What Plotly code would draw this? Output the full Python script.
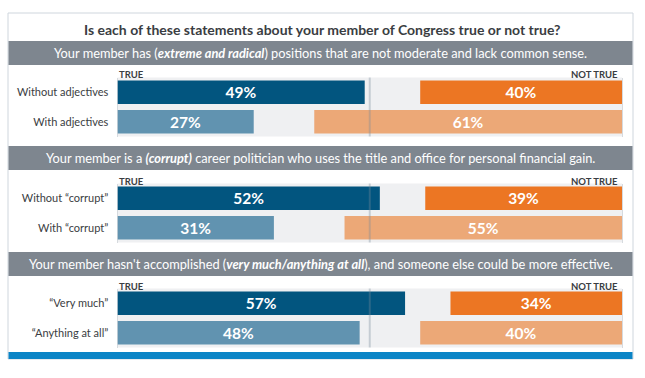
import plotly.graph_objects as go

# ---------------- data ----------------
title_text = "Is each of these statements about your member of Congress true or not true?"
statements = [
    "Your member has (<b><i>extreme and radical</i></b>) positions that are not moderate and lack common sense.",
    "Your member is a <b><i>(corrupt)</i></b> career politician who uses the title and office for personal financial gain.",
    "Your member hasn't accomplished (<b><i>very much/anything at all</i></b>), and someone else could be more effective.",
]
row_labels = [
    ["Without adjectives", "With adjectives"],
    ["Without “corrupt”", "With “corrupt”"],
    ["“Very much”", "“Anything at all”"],
]
true_vals = [[49, 27], [52, 31], [57, 48]]
not_true_vals = [[40, 61], [39, 55], [34, 40]]

# ---------------- style ----------------
W, H = 645, 378
FONT = "Lato"
DARK_BLUE, LIGHT_BLUE = "#02557f", "#6193b0"
ORANGE, LIGHT_ORANGE = "#ec7623", "#eca877"
HEADER_GRAY = "#7e868f"
BG_GRAY = "#eff0f2"
TEXT_DARK = "#3a3d42"

def px(x):
    return x / W

def py(y):
    return 1 - y / H

# section geometry (pixels)
x_left, x_right = 117.5, 622
plot_tops = [77.5, 183.5, 288.5]
plot_h = 59
header_tops = [41, 146, 252]
header_h = 24

fig = go.Figure()
layout_axes = {}
shapes = []
annotations = []

# outer frame
shapes.append(dict(type="rect", xref="paper", yref="paper",
                   x0=px(8), x1=px(633), y0=py(359), y1=py(13),
                   line=dict(color="#cfd6dd", width=1), layer="below"))

for i in range(3):
    sfx = "" if i == 0 else str(i + 1)
    xa, ya = "x" + sfx, "y" + sfx
    cats = row_labels[i]
    fig.add_trace(go.Bar(
        y=cats, x=true_vals[i], base=[0, 0], orientation="h",
        xaxis=xa, yaxis=ya, width=0.8,
        marker=dict(color=[DARK_BLUE, LIGHT_BLUE], line=dict(width=0)),
        text=[f"{v}%" for v in true_vals[i]], textposition="inside",
        insidetextanchor="middle", constraintext="none",
        textfont=dict(family=FONT, size=15.5, color="white", weight="bold"),
        hoverinfo="skip", showlegend=False,
    ))
    fig.add_trace(go.Bar(
        y=cats, x=not_true_vals[i], base=[100 - v for v in not_true_vals[i]],
        orientation="h", xaxis=xa, yaxis=ya, width=0.8,
        marker=dict(color=[ORANGE, LIGHT_ORANGE], line=dict(width=0)),
        text=[f"{v}%" for v in not_true_vals[i]], textposition="inside",
        insidetextanchor="middle", constraintext="none",
        textfont=dict(family=FONT, size=15.5, color="white", weight="bold"),
        hoverinfo="skip", showlegend=False,
    ))
    top = plot_tops[i]
    layout_axes["xaxis" + sfx] = dict(
        domain=[px(x_left), px(x_right)], range=[0, 100], anchor=ya,
        visible=False, fixedrange=True,
    )
    layout_axes["yaxis" + sfx] = dict(
        domain=[py(top + plot_h), py(top)], anchor=xa,
        type="category", categoryorder="array", categoryarray=cats,
        range=[1.5, -0.5], showgrid=False, zeroline=False, ticks="",
        ticklabelstandoff=6, showline=True, mirror=True,
        linecolor="#d6dade", linewidth=1, layer="below traces",
        tickfont=dict(family=FONT, size=11, color=TEXT_DARK), fixedrange=True,
    )
    # center divider
    shapes.append(dict(type="line", xref=xa, yref=ya + " domain",
                       x0=50, x1=50, y0=0, y1=1, layer="above",
                       line=dict(color="rgba(120,138,156,0.35)", width=2)))
    # header band
    ht = header_tops[i]
    shapes.append(dict(type="rect", xref="paper", yref="paper",
                       x0=px(8.5), x1=px(632.5), y0=py(ht + header_h), y1=py(ht),
                       fillcolor=HEADER_GRAY, line=dict(width=0), layer="below"))
    annotations.append(dict(text=statements[i], xref="paper", yref="paper",
                            x=px(320.5), y=py(ht + header_h / 2), showarrow=False,
                            xanchor="center", yanchor="middle",
                            font=dict(family=FONT, size=12.8, color="white")))
    # TRUE / NOT TRUE labels
    annotations.append(dict(text="<b>TRUE</b>", xref="paper", yref="paper",
                            x=px(x_left - 0.5), y=py(top - 2.5), showarrow=False,
                            xanchor="left", yanchor="middle",
                            font=dict(family=FONT, size=9.5, color=TEXT_DARK)))
    annotations.append(dict(text="<b>NOT TRUE</b>", xref="paper", yref="paper",
                            x=px(x_right - 2), y=py(top - 2.5), showarrow=False,
                            xanchor="right", yanchor="middle",
                            font=dict(family=FONT, size=9.5, color=TEXT_DARK)))

# bottom band
shapes.append(dict(type="rect", xref="paper", yref="paper",
                   x0=px(8.5), x1=px(632.5), y0=py(359), y1=py(352),
                   fillcolor="#0b84c6", line=dict(width=0), layer="above"))
annotations.append(dict(text="<b>" + title_text + "</b>", xref="paper", yref="paper",
                        x=px(322), y=py(29), showarrow=False,
                        xanchor="center", yanchor="middle",
                        font=dict(family=FONT, size=14, color=TEXT_DARK)))

fig.update_layout(
    width=W, height=H, margin=dict(l=0, r=0, t=0, b=0),
    paper_bgcolor="white", plot_bgcolor=BG_GRAY,
    barmode="overlay", shapes=shapes, annotations=annotations,
    font=dict(family=FONT), showlegend=False,
    **layout_axes,
)

fig.write_html("out.html", config={"displayModeBar": False},
               post_script="document.body.style.margin='0';document.body.style.overflow='hidden';")
